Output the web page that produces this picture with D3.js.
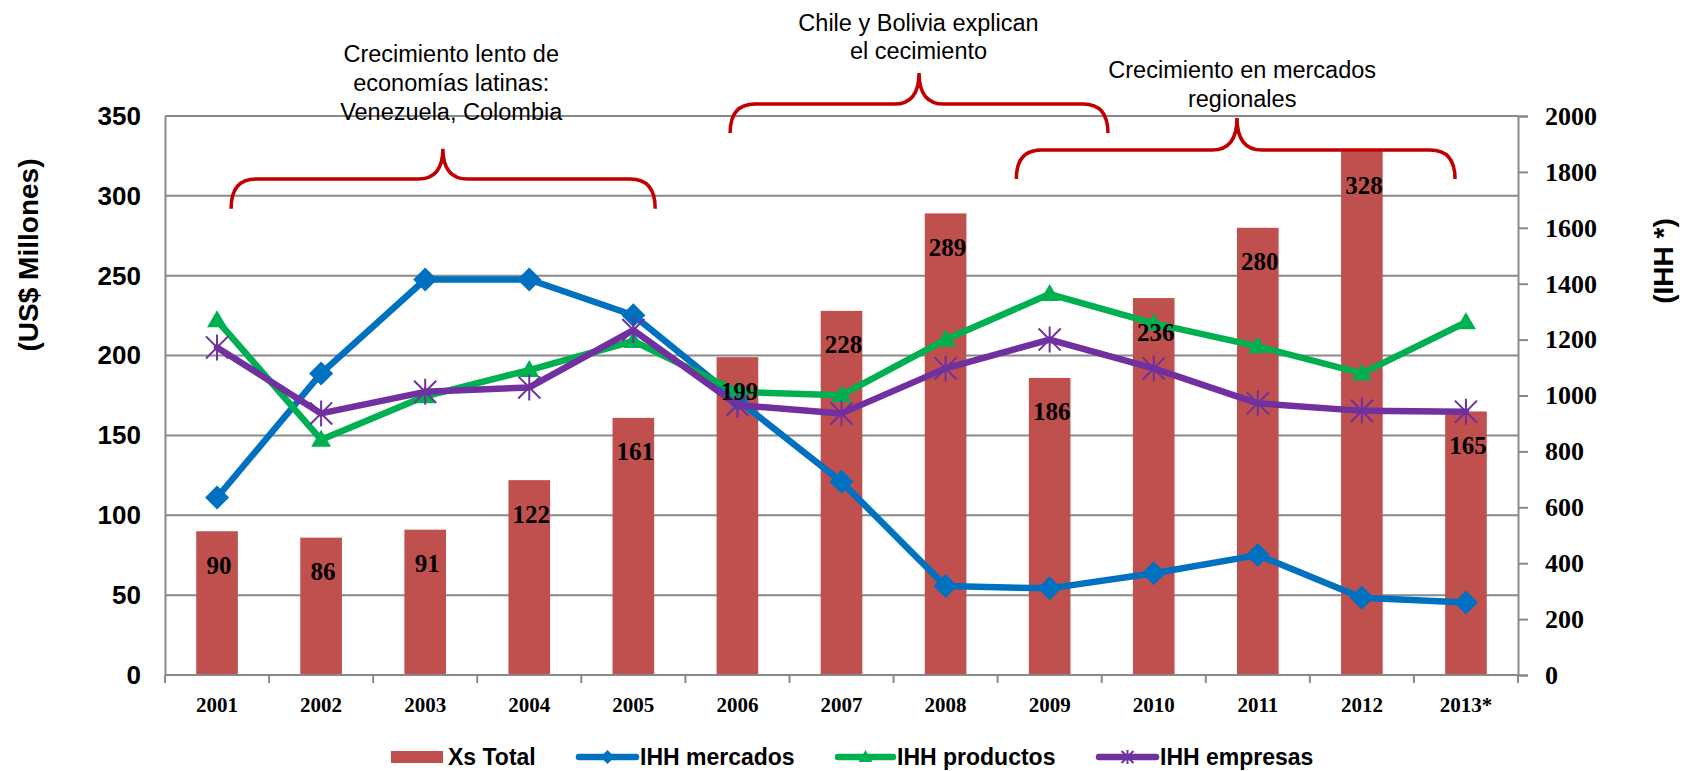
<!DOCTYPE html>
<html>
<head>
<meta charset="utf-8">
<script src="https://cdn.jsdelivr.net/npm/d3@7"></script>
<style>
  html, body { margin: 0; padding: 0; background: #fff; }
  svg { display: block; }
</style>
</head>
<body>
<svg id="chart" width="1686" height="771"></svg>
<script>
// ---------------- DATA ----------------
const years = ["2001","2002","2003","2004","2005","2006","2007","2008","2009","2010","2011","2012","2013*"];
const xsTotal = [90, 86, 91, 122, 161, 199, 228, 289, 186, 236, 280, 328, 165];
const ihhMercados = [635, 1079, 1415, 1415, 1287, 985, 691, 318, 310, 364, 429, 276, 259];
const ihhProductos = [1269, 842, 997, 1091, 1195, 1013, 1001, 1200, 1363, 1258, 1176, 1079, 1262];
const ihhEmpresas = [1172, 936, 1013, 1029, 1234, 966, 936, 1097, 1200, 1097, 972, 945, 942];
const leftTicks = [0, 50, 100, 150, 200, 250, 300, 350];
const rightTicks = [0, 200, 400, 600, 800, 1000, 1200, 1400, 1600, 1800, 2000];
const leftTitle = "(US$ Millones)";
const rightTitle = "(IHH *)";
const legendLabels = ["Xs Total", "IHH mercados", "IHH productos", "IHH empresas"];
// annotations: category index span, left-axis value levels, text lines
const annotations = [
  { i0: 0.135, i1: 4.21, im: 2.17, vEnd: 292, vBar: 310.5, vTip: 329.5, ti: 2.25,
    lines: ["Crecimiento lento de", "economías latinas:", "Venezuela, Colombia"], tv: [388.8, 370.4, 352.8] },
  { i0: 4.93, i1: 8.56, im: 6.745, vEnd: 339.4, vBar: 357.5, vTip: 377, ti: 6.74,
    lines: ["Chile y Bolivia explican", "el cecimiento"], tv: [408, 391] },
  { i0: 7.68, i1: 11.895, im: 9.80, vEnd: 310.6, vBar: 328.7, vTip: 348.8, ti: 9.85,
    lines: ["Crecimiento en mercados", "regionales"], tv: [378.6, 360.6] }
];

// ---------------- LAYOUT ----------------
const L = 165, R = 1518, T = 116, B = 675;
const COL = { bar: "#C0504D", blue: "#0070C0", green: "#00B050", purple: "#7030A0", grid: "#898989", brace: "#C00000" };
const sans = "'Liberation Sans', Arial, sans-serif";
const serif = "'Liberation Serif', 'Times New Roman', serif";

const svg = d3.select("#chart");

const x = d3.scaleBand().domain(years).range([L, R]).paddingInner(0.6).paddingOuter(0.3);
const bw = x.bandwidth();
const cx = d => x(d) + bw / 2;
const xi = d3.scaleLinear().domain([0, years.length - 1]).range([cx(years[0]), cx(years[years.length - 1])]);
const yL = d3.scaleLinear().domain([0, 350]).range([B, T]);
const yR = d3.scaleLinear().domain([0, 2000]).range([B, T]);

// gridlines
svg.append("g").selectAll("line").data(leftTicks).join("line")
  .attr("x1", L).attr("x2", R)
  .attr("y1", d => yL(d)).attr("y2", d => yL(d))
  .attr("stroke", COL.grid).attr("stroke-width", 2);

// bars
svg.append("g").selectAll("rect").data(years).join("rect")
  .attr("x", d => x(d)).attr("width", bw)
  .attr("y", (d, i) => yL(xsTotal[i]))
  .attr("height", (d, i) => B - yL(xsTotal[i]))
  .attr("fill", COL.bar);

// left axis
const gL = svg.append("g").attr("transform", `translate(${L},0)`)
  .call(d3.axisLeft(yL).tickValues(leftTicks).tickSize(0).tickPadding(24));
gL.select(".domain").attr("stroke", COL.grid).attr("stroke-width", 2);
gL.selectAll("text").attr("font-family", sans).attr("font-weight", "bold").attr("font-size", 26).attr("fill", "#000");

// right axis
const gR = svg.append("g").attr("transform", `translate(${R},0)`)
  .call(d3.axisRight(yR).tickValues(rightTicks).tickFormat(d3.format("d")).tickSize(10).tickPadding(17));
gR.select(".domain").attr("stroke", COL.grid).attr("stroke-width", 2);
gR.selectAll(".tick line").attr("stroke", COL.grid).attr("stroke-width", 2);
gR.selectAll("text").attr("font-family", serif).attr("font-weight", "bold").attr("font-size", 26).attr("fill", "#000");

// bottom axis
const gB = svg.append("g").attr("transform", `translate(0,${B})`)
  .call(d3.axisBottom(x).tickSize(0).tickPadding(22));
gB.select(".domain").remove();
gB.selectAll("text").attr("font-family", serif).attr("font-weight", "bold").attr("font-size", 21).attr("fill", "#000");
const bounds = years.map(d => x(d) - x.step() * x.paddingInner() / 2).concat([R]);
svg.append("line").attr("x1", L).attr("x2", R).attr("y1", B).attr("y2", B)
  .attr("stroke", COL.grid).attr("stroke-width", 2);
svg.append("g").selectAll("line").data(bounds).join("line")
  .attr("x1", d => d).attr("x2", d => d).attr("y1", B).attr("y2", B + 8)
  .attr("stroke", COL.grid).attr("stroke-width", 2);

// axis titles
svg.append("text").attr("transform", `translate(28,255) rotate(-90)`)
  .attr("text-anchor", "middle").attr("dominant-baseline", "central")
  .attr("font-family", sans).attr("font-weight", "bold").attr("font-size", 28).text(leftTitle);
svg.append("text").attr("transform", `translate(1663,261) rotate(-90)`)
  .attr("text-anchor", "middle").attr("dominant-baseline", "central")
  .attr("font-family", sans).attr("font-weight", "bold").attr("font-size", 28).text(rightTitle);

// markers
const diamond = s => `M0,${-s}L${s},0L0,${s}L${-s},0Z`;
const triangle = s => `M0,${-s}L${s},${s * 0.7}L${-s},${s * 0.7}Z`;
const star = s => `M0,${-s}V${s}M${-s * 0.85},${-s * 0.85}L${s * 0.85},${s * 0.85}M${s * 0.85},${-s * 0.85}L${-s * 0.85},${s * 0.85}`;

const series = [
  { vals: ihhMercados, color: COL.blue, kind: "diamond" },
  { vals: ihhProductos, color: COL.green, kind: "triangle" },
  { vals: ihhEmpresas, color: COL.purple, kind: "star" }
];
const line = d3.line().x(d => cx(d.year)).y(d => yR(d.v));

function drawMarker(g, kind, color, s) {
  if (kind === "diamond") g.append("path").attr("d", diamond(s)).attr("fill", color);
  else if (kind === "triangle") g.append("path").attr("d", triangle(s)).attr("fill", color);
  else g.append("path").attr("d", star(s)).attr("stroke", color).attr("stroke-width", 2).attr("fill", "none");
}

series.forEach(sr => {
  const pts = years.map((y, i) => ({ year: y, v: sr.vals[i] }));
  const g = svg.append("g");
  g.append("path").datum(pts).attr("d", line)
    .attr("fill", "none").attr("stroke", sr.color).attr("stroke-width", 6.5)
    .attr("stroke-linejoin", "round").attr("stroke-linecap", "round");
  pts.forEach(p => {
    const m = g.append("g").attr("transform", `translate(${cx(p.year)},${yR(p.v)})`);
    drawMarker(m, sr.kind, sr.color, sr.kind === "diamond" ? 12 : (sr.kind === "triangle" ? 10 : 13));
  });
});

// data labels
svg.append("g").selectAll("text").data(years).join("text")
  .attr("x", d => cx(d) + 2)
  .attr("y", (d, i) => yL(xsTotal[i]) + 34)
  .attr("text-anchor", "middle").attr("dominant-baseline", "central")
  .attr("font-family", serif).attr("font-weight", "bold").attr("font-size", 25).attr("fill", "#000")
  .text((d, i) => xsTotal[i]);

// annotations
function bracePath(a) {
  const x0 = xi(a.i0), x1 = xi(a.i1), xm = xi(a.im);
  const ye = yL(a.vEnd), yb = yL(a.vBar), yt = yL(a.vTip);
  const r = 25;
  return `M${x0},${ye}Q${x0},${yb} ${x0 + r},${yb}L${xm - r},${yb}Q${xm},${yb} ${xm},${yt}` +
         `Q${xm},${yb} ${xm + r},${yb}L${x1 - r},${yb}Q${x1},${yb} ${x1},${ye}`;
}
annotations.forEach(a => {
  svg.append("path").attr("d", bracePath(a)).attr("fill", "none")
    .attr("stroke", COL.brace).attr("stroke-width", 3.5);
  a.lines.forEach((t, k) => {
    svg.append("text").attr("x", xi(a.ti)).attr("y", yL(a.tv[k]))
      .attr("text-anchor", "middle").attr("dominant-baseline", "central")
      .attr("font-family", sans).attr("font-size", 23.5).attr("fill", "#000").text(t);
  });
});

// legend
const LY = 757;
const legendItems = [
  { label: legendLabels[0], type: "rect", x0: 391, x1: 443, tx: 448 },
  { label: legendLabels[1], type: "line", color: COL.blue, kind: "diamond", x0: 579, x1: 636, tx: 640 },
  { label: legendLabels[2], type: "line", color: COL.green, kind: "triangle", x0: 838, x1: 893, tx: 897 },
  { label: legendLabels[3], type: "line", color: COL.purple, kind: "star", x0: 1099, x1: 1156, tx: 1160 }
];
const lg = svg.append("g");
legendItems.forEach(it => {
  if (it.type === "rect") {
    lg.append("rect").attr("x", it.x0).attr("y", LY - 6).attr("width", it.x1 - it.x0).attr("height", 12).attr("fill", COL.bar);
  } else {
    lg.append("line").attr("x1", it.x0).attr("x2", it.x1).attr("y1", LY).attr("y2", LY)
      .attr("stroke", it.color).attr("stroke-width", 6.5).attr("stroke-linecap", "round");
    const m = lg.append("g").attr("transform", `translate(${(it.x0 + it.x1) / 2},${LY})`);
    drawMarker(m, it.kind, it.color, 7);
  }
  lg.append("text").attr("x", it.tx).attr("y", LY).attr("dominant-baseline", "central")
    .attr("font-family", sans).attr("font-weight", "bold").attr("font-size", 23).attr("fill", "#000").text(it.label);
});
</script>
</body>
</html>
